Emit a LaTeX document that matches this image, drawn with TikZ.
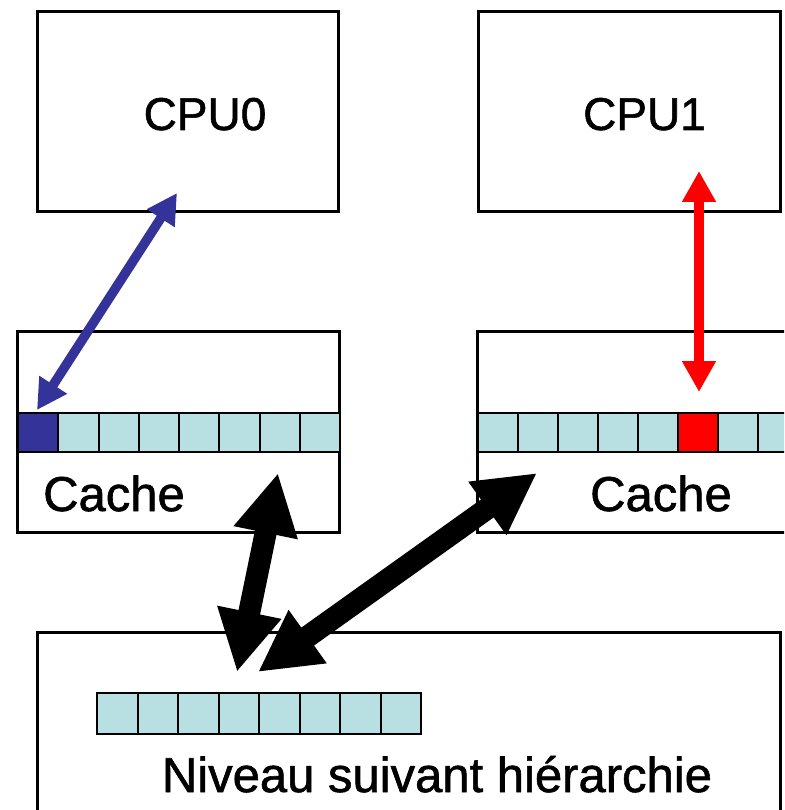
\documentclass[tikz,border=0pt]{standalone}
\usepackage{fontspec}
\setmainfont{Liberation Sans}
\newfontfamily\heavyfont[FakeBold=1.2]{Liberation Sans}
\usetikzlibrary{arrows.meta}
\definecolor{cellc}{HTML}{B8DFE2}
\definecolor{navy}{HTML}{333399}
\definecolor{redc}{HTML}{FF0000}
\begin{document}
\begin{tikzpicture}[x=1pt,y=-1pt,
  box/.style={draw=black,line width=3pt,inner sep=0pt,fill=white},
  cell/.style={draw=black,line width=2.2pt,inner sep=0pt,anchor=north west},
  lbl/.style={anchor=base,inner sep=0pt},
  bluearrow/.style={draw=navy,line width=9.5pt,{Triangle[length=30pt,width=31pt]}-{Triangle[length=30pt,width=31pt]}},
  redarrow/.style={draw=redc,line width=10pt,{Triangle[length=31pt,width=32pt]}-{Triangle[length=31pt,width=32pt]}},
  bigarrow/.style={draw=black,line width=22pt,{Triangle[length=61pt,width=61pt]}-{Triangle[length=61pt,width=61pt]}}]
\clip (0,0) rectangle (784,810);
\fill[white] (0,0) rectangle (784,810);
% boxes
\node[box,minimum width=301pt,minimum height=200pt] (cpu0) at (187.5,112) {};
\node[box,minimum width=302pt,minimum height=200pt] (cpu1) at (629,112) {};
\node[box,minimum width=322pt,minimum height=201pt] (cache0) at (178,431.5) {};
\node[box,minimum width=323pt,minimum height=201pt] (cache1) at (638.5,431.5) {};
\node[box,minimum width=743pt,minimum height=220pt] (mem) at (408.5,742) {};
% cells
\foreach \i/\c in {0/navy,1/cellc,2/cellc,3/cellc,4/cellc,5/cellc,6/cellc,7/cellc}
  \node[cell,fill=\c,minimum width=40.25pt,minimum height=39pt] (a\i) at (17+40.25*\i,412) {};
\foreach \i/\c in {0/cellc,1/cellc,2/cellc,3/cellc,4/cellc,5/redc,6/cellc,7/cellc}
  \node[cell,fill=\c,minimum width=40pt,minimum height=39pt] (b\i) at (477+40*\i,412) {};
\foreach \i in {0,...,7}
  \node[cell,fill=cellc,minimum width=40.5pt,minimum height=41pt] (m\i) at (96+40.5*\i,692) {};
% labels
\node[lbl,font=\heavyfont\fontsize{46}{46}\selectfont] (t0) at (205,130) {CPU0};
\node[lbl,font=\heavyfont\fontsize{46}{46}\selectfont] (t1) at (644.5,130) {CPU1};
\node[lbl,font=\heavyfont\fontsize{49}{49}\selectfont] (t2) at (114,511) {Cache};
\node[lbl,font=\heavyfont\fontsize{49}{49}\selectfont] (t3) at (661,511) {Cache};
\node[lbl,font=\heavyfont\fontsize{49}{49}\selectfont] (t4) at (437,792) {Niveau suivant hiérarchie};
% arrow end points
\coordinate (pa) at (177,193);
\coordinate (pb) at (37,410);
\coordinate (ra) at (699,171);
\coordinate (rb) at (699,392);
\coordinate (ka) at (278,473);
\coordinate (kb) at (237,672);
\coordinate (la) at (537,473);
\coordinate (lb) at (258,672);
% arrows
\draw[bluearrow] (pa) -- (pb);
\draw[redarrow] (ra) -- (rb);
\draw[bigarrow] (ka) -- (kb);
\draw[bigarrow] (la) -- (lb);
\end{tikzpicture}
\end{document}
